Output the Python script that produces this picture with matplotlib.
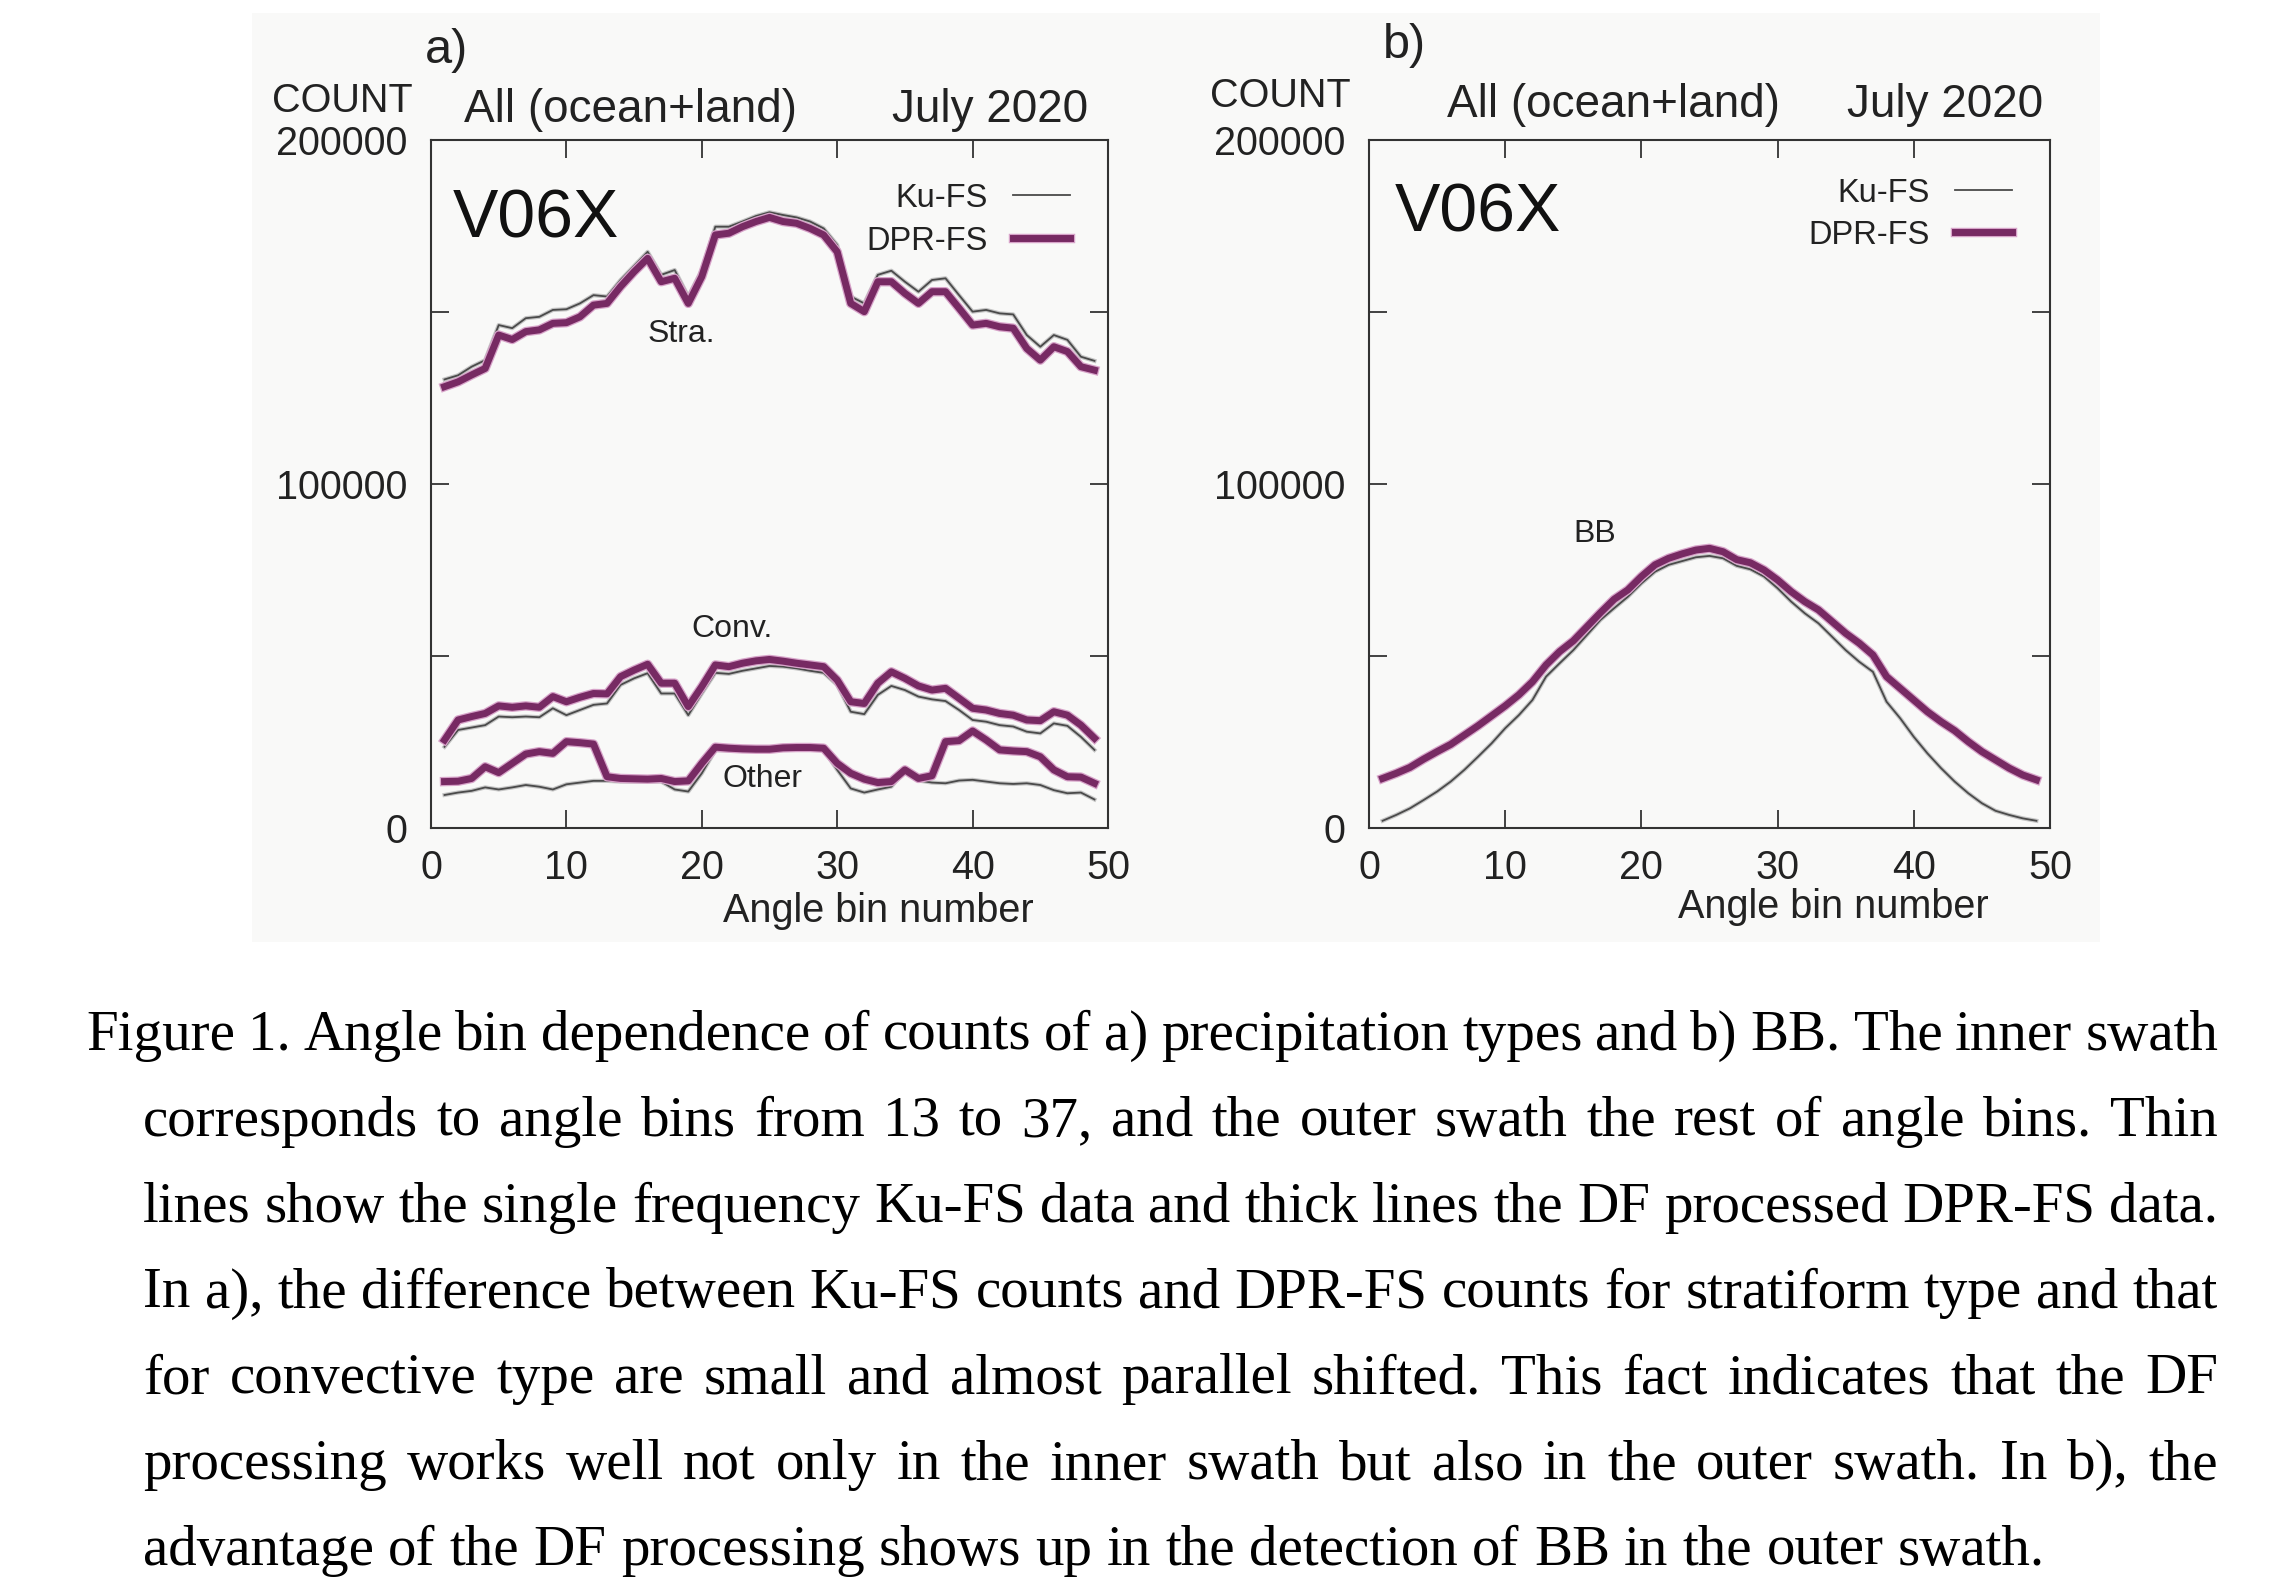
import matplotlib
matplotlib.use('Agg')
import matplotlib.pyplot as plt
import matplotlib.patheffects as pe
from matplotlib.lines import Line2D
from matplotlib.patches import Rectangle
import numpy as np

W, H = 2292, 1584

bins = np.arange(1, 50)

# panel a) stratiform / convective / other counts
stra_ku = [130400, 131600, 134100, 136000, 146200, 145300, 148200, 148600, 150600, 150800,
           152500, 154900, 154500, 159300, 163400, 167500, 160800, 162200, 154500, 162200,
           174800, 174800, 176300, 177900, 179000, 178200, 177500, 176300, 174300, 169500,
           154500, 152500, 160800, 162000, 158800, 155900, 159300, 159800, 154900, 150100,
           150600, 149600, 149300, 143300, 139900, 143300, 141900, 137000, 135800]
stra_dpr = [128300, 129700, 131700, 133600, 143300, 142000, 144300, 144800, 146700, 146900,
            148600, 152000, 152500, 157400, 161700, 165600, 158800, 159800, 152500, 160300,
            172400, 172900, 174800, 176300, 177500, 176300, 175800, 174300, 172400, 167500,
            152500, 150100, 158800, 158800, 155400, 152500, 155900, 155900, 151100, 146200,
            146700, 145700, 145300, 139400, 136000, 139900, 138500, 134100, 133100]
conv_ku = [23600, 28500, 29200, 29900, 32400, 32200, 32400, 32200, 34800, 32800,
           34300, 35800, 36200, 41600, 43500, 45000, 39100, 39100, 32800, 39100,
           45100, 44800, 45700, 46400, 47100, 46900, 46400, 45700, 45100, 41600,
           33800, 33100, 38700, 41300, 40100, 38200, 37400, 36900, 34300, 31400,
           30900, 29900, 29500, 28000, 27500, 30400, 29700, 26500, 22700]
conv_dpr = [25600, 31400, 32400, 33300, 35500, 35100, 35500, 35100, 38200, 36700,
            38000, 39100, 39000, 44000, 45900, 47600, 42100, 42100, 35300, 41100,
            47400, 46900, 47900, 48600, 49000, 48500, 47900, 47400, 46900, 43000,
            36700, 36200, 42100, 45400, 43500, 41300, 40100, 40600, 37700, 34800,
            34300, 33300, 32800, 31400, 31200, 33800, 32800, 29900, 26100]
other_ku = [9600, 10300, 10800, 11800, 11200, 11800, 12500, 12000, 11200, 12700,
            13200, 13700, 13700, 13500, 13500, 13500, 13500, 11200, 10600, 15900,
            22600, 22600, 22500, 22400, 22400, 22800, 22900, 22900, 22700, 16900,
            11500, 10300, 11200, 12000, 16700, 13800, 13200, 13000, 13800, 14000,
            13500, 13000, 12800, 13000, 12500, 11000, 10100, 10300, 8300]
other_dpr = [13500, 13600, 14400, 17800, 16100, 18800, 21500, 22200, 21700, 25100,
             24800, 24400, 14900, 14400, 14300, 14200, 14400, 13500, 13700, 18800,
             23500, 23200, 23000, 22900, 22900, 23300, 23400, 23400, 23200, 18800,
             15900, 14200, 13200, 13500, 16900, 14400, 15200, 25100, 25400, 28200,
             25600, 22700, 22400, 22200, 20700, 16900, 14900, 14800, 13000]

# panel b) bright band counts
bb_ku = [2100, 3800, 5700, 8100, 10600, 13500, 16900, 20700, 24600, 29000,
         32800, 37200, 44000, 47900, 51700, 56100, 60500, 63900, 67200, 71100,
         74500, 76500, 77600, 78700, 79100, 78400, 76200, 75200, 73100, 69700,
         65800, 62400, 59500, 55600, 51700, 48300, 45400, 36700, 31900, 26500,
         21700, 17400, 13500, 10100, 7200, 5000, 3800, 2800, 2100]
bb_dpr = [14400, 15900, 17600, 20000, 22200, 24300, 27000, 29700, 32600, 35500,
          38700, 42500, 47400, 51300, 54400, 58500, 62600, 66500, 69200, 73100,
          76500, 78400, 79700, 80800, 81300, 80300, 78000, 77100, 75000, 72100,
          68700, 65800, 63400, 60000, 56600, 53700, 50300, 44000, 40600, 37200,
          33800, 30900, 28300, 25100, 22200, 19800, 17400, 15400, 14000]

caption_lines = [
    "Figure 1. Angle bin dependence of counts of a) precipitation types and b) BB. The inner swath",
    "corresponds to angle bins from 13 to 37, and the outer swath the rest of angle bins. Thin",
    "lines show the single frequency Ku-FS data and thick lines the DF processed DPR-FS data.",
    "In a), the difference between Ku-FS counts and DPR-FS counts for stratiform type and that",
    "for convective type are small and almost parallel shifted. This fact indicates that the DF",
    "processing works well not only in the inner swath but also in the outer swath. In b), the",
    "advantage of the DF processing shows up in the detection of BB in the outer swath.",
]

KU_COLOR = '#4a4a4a'
DPR_COLOR = '#772a63'
INK = '#222222'

plt.rcParams['font.family'] = ['Liberation Sans', 'DejaVu Sans']


def fx(px):
    return px / W


def fy(py):
    return 1 - py / H


fig = plt.figure(figsize=(W / 100, H / 100), dpi=100)
fig.patch.set_facecolor('white')

# light grey backdrop of the pasted chart
fig.add_artist(Rectangle((fx(252), fy(942)), fx(2100) - fx(252), fy(13) - fy(942),
                         transform=fig.transFigure, facecolor='#f9f9f8', edgecolor='none',
                         zorder=-5))


def ku_line(ax, y):
    ax.plot(bins, y, color=KU_COLOR, lw=1.3,
            path_effects=[pe.Stroke(linewidth=3.0, foreground='#c4c4c4'), pe.Normal()])


def dpr_line(ax, y):
    ax.plot(bins, y, color=DPR_COLOR, lw=5.0,
            path_effects=[pe.Stroke(linewidth=6.8, foreground='#d7a3c9'), pe.Normal()])


def setup_axes(left_px, right_px):
    ax = fig.add_axes([fx(left_px), fy(828), fx(right_px) - fx(left_px), fy(140) - fy(828)])
    ax.set_facecolor('none')
    ax.set_xlim(0, 50)
    ax.set_ylim(0, 200000)
    ax.set_xticks(range(0, 51, 10))
    ax.set_yticks(range(0, 200001, 50000))
    ax.set_yticklabels(['0', '', '100000', '', '200000'])
    ax.tick_params(direction='in', length=13, width=1.3, top=True, right=True,
                   labelsize=28.5, color='#333333', labelcolor=INK)
    ax.tick_params(axis='x', pad=15)
    ax.tick_params(axis='y', pad=17)
    for s in ax.spines.values():
        s.set_linewidth(1.5)
        s.set_color('#333333')
    return ax


def legend_keys(right_px, y_ku, y_dpr):
    fig.text(fx(right_px - 120), fy(y_ku + 12), 'Ku-FS', ha='right', va='baseline',
             fontsize=23.5, color=INK)
    fig.text(fx(right_px - 120), fy(y_dpr + 12), 'DPR-FS', ha='right', va='baseline',
             fontsize=23.5, color=INK)
    fig.add_artist(Line2D([fx(right_px - 95), fx(right_px - 38)], [fy(y_ku), fy(y_ku)],
                          transform=fig.transFigure, color=KU_COLOR, lw=1.3))
    fig.add_artist(Line2D([fx(right_px - 95), fx(right_px - 38)], [fy(y_dpr), fy(y_dpr)],
                          transform=fig.transFigure, color=DPR_COLOR, lw=5.0,
                          path_effects=[pe.Stroke(linewidth=6.8, foreground='#d7a3c9'),
                                        pe.Normal()]))


def header(frame_left, frame_right, letter, dy):
    fig.text(fx(frame_left + (-6 if letter == 'a)' else 14)), fy(63 - dy), letter,
             ha='left', va='baseline', fontsize=35, color=INK)
    fig.text(fx(frame_left - 18), fy(112 - dy), 'COUNT', ha='right', va='baseline',
             fontsize=28.5, color=INK)
    fig.text(fx(frame_left + (33 if letter == 'a)' else 78)), fy(122 - dy), 'All (ocean+land)',
             ha='left', va='baseline', fontsize=33, color=INK)
    fig.text(fx(frame_right - 20 + (13 if letter == 'b)' else 0)), fy(122 - dy), 'July 2020',
             ha='right', va='baseline', fontsize=33, color=INK)
    fig.text(fx(frame_left + (22 if letter == 'a)' else 26)), fy(237 - dy), 'V06X',
             ha='left', va='baseline', fontsize=49, color='#111111')


# ---- panel a
ax1 = setup_axes(431, 1108)
ku_line(ax1, stra_ku)
dpr_line(ax1, stra_dpr)
ku_line(ax1, conv_ku)
dpr_line(ax1, conv_dpr)
ku_line(ax1, other_ku)
dpr_line(ax1, other_dpr)
ax1.text(18.5, 141300, 'Stra.', ha='center', va='baseline', fontsize=23, color=INK)
ax1.text(22.2, 55500, 'Conv.', ha='center', va='baseline', fontsize=23, color=INK)
ax1.text(24.5, 11900, 'Other', ha='center', va='baseline', fontsize=23, color=INK)
header(431, 1108, 'a)', 0)
legend_keys(1108, 195, 238)
fig.text(fx(878), fy(922), 'Angle bin number', ha='center', va='baseline',
         fontsize=28.5, color=INK)

# ---- panel b
ax2 = setup_axes(1369, 2050)
ku_line(ax2, bb_ku)
dpr_line(ax2, bb_dpr)
ax2.text(16.6, 83100, 'BB', ha='center', va='baseline', fontsize=23, color=INK)
header(1369, 2050, 'b)', 5)
legend_keys(2050, 190, 232)
fig.text(fx(1833), fy(918), 'Angle bin number', ha='center', va='baseline',
         fontsize=28.5, color=INK)

# ---- caption, justified word by word
renderer = fig.canvas.get_renderer()
cap_font = dict(family=['Liberation Serif', 'DejaVu Serif'], fontsize=41, color='black')
right_edge = 2218
for i, line in enumerate(caption_lines):
    x0 = 86 if i == 0 else 143
    base = 1050 + 85.8 * i
    words = line.split(' ')
    texts = [fig.text(0, fy(base), w, ha='left', va='baseline', **cap_font) for w in words]
    widths = [t.get_window_extent(renderer).width for t in texts]
    space = fig.text(0, 0, 'a a', **cap_font)
    sp_w = space.get_window_extent(renderer).width
    a_w = fig.text(0, 0, 'aa', **cap_font)
    sp_w = sp_w - a_w.get_window_extent(renderer).width
    space.remove()
    a_w.remove()
    if i < len(caption_lines) - 1:
        gap = (right_edge - x0 - sum(widths)) / (len(words) - 1)
    else:
        gap = sp_w
    x = x0
    for t, w in zip(texts, widths):
        t.set_x(fx(x))
        x += w + gap

fig.savefig('out.png', dpi=100)
